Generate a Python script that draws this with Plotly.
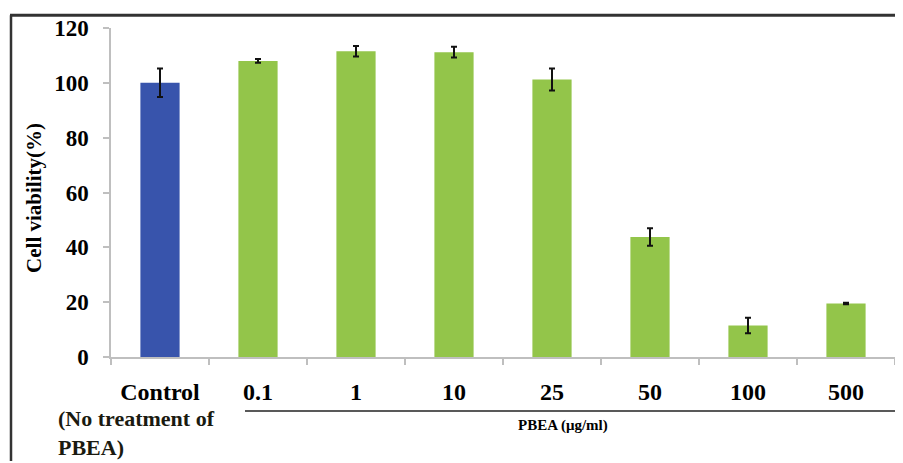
import plotly.graph_objects as go

categories = ["Control", "0.1", "1", "10", "25", "50", "100", "500"]
viability = [100, 108, 111.5, 111.2, 101.2, 43.8, 11.5, 19.5]
errors = [5.2, 0.7, 1.9, 2.0, 4.0, 3.2, 2.8, 0.3]
bar_colors = ["#3854AC"] + ["#93C54A"] * 7
y_ticks = [0, 20, 40, 60, 80, 100, 120]

# page body adds an 8px offset; work in screen pixels and compensate
OFF = 8
W, H = 903 - OFF, 463 - OFF
L, T = 111 - OFF, 22 - OFF
R = W - (895 - OFF)
B = H - (357 - OFF)
pw, ph = W - L - R, H - T - B

def px(x):
    return (x - OFF - L) / pw

def py(y):
    return (H - B - (y - OFF)) / ph

serif = "Liberation Serif"

fig = go.Figure()
fig.add_trace(go.Bar(
    x=categories, y=viability,
    marker=dict(color=bar_colors, line=dict(width=0)),
    error_y=dict(type="data", array=errors, color="#111111", thickness=2, width=3),
    width=0.4,
))

fig.update_layout(
    width=W, height=H,
    margin=dict(l=L, r=R, t=T, b=B),
    paper_bgcolor="white", plot_bgcolor="white",
    showlegend=False,
    xaxis=dict(
        type="category", tickson="boundaries",
        ticks="outside", ticklen=6, tickcolor="#BFBFBF", tickwidth=1.5,
        showline=True, linecolor="#BFBFBF", linewidth=1.5,
        showgrid=False,
        tickfont=dict(family=serif, size=24, color="black", weight="bold"),
        ticklabelstandoff=12,
    ),
    yaxis=dict(
        range=[0, 120], tickvals=y_ticks,
        ticks="outside", ticklen=6, tickcolor="#BFBFBF", tickwidth=1.5,
        showline=True, linecolor="#BFBFBF", linewidth=1.5,
        showgrid=False, zeroline=False,
        tickfont=dict(family=serif, size=23, color="black", weight="bold"),
        ticklabelstandoff=10,
    ),
    font=dict(family=serif),
)

# y-axis title
fig.add_annotation(
    text="<b>Cell viability(%)</b>", textangle=-90,
    xref="paper", yref="paper", x=px(34), y=py(195),
    xanchor="center", yanchor="middle",
    showarrow=False, font=dict(family=serif, size=21, color="black"),
)
# Control note
fig.add_annotation(
    text="<b>(No treatment of<br>PBEA)</b>", align="left",
    xref="paper", yref="paper", x=px(56), y=py(405), xanchor="left", yanchor="top",
    showarrow=False, font=dict(family=serif, size=22, color="#1a1a10"),
)
# PBEA concentration label
fig.add_annotation(
    text="<b>PBEA (μg/ml)</b>",
    xref="paper", yref="paper", x=px(563), y=py(427),
    xanchor="center", yanchor="middle",
    showarrow=False, font=dict(family=serif, size=15, color="black"),
)
# underline bracket
fig.add_shape(type="line", xref="paper", yref="paper",
              x0=px(245), x1=px(898), y0=py(412), y1=py(412),
              line=dict(color="#222222", width=1.5))
# outer frame (top and left)
fig.add_shape(type="line", xref="paper", yref="paper",
              x0=px(10), x1=px(903), y0=py(9), y1=py(9),
              line=dict(color="#333333", width=3))
fig.add_shape(type="line", xref="paper", yref="paper",
              x0=px(11), x1=px(11), y0=py(9), y1=py(463),
              line=dict(color="#333333", width=2.5))

fig.write_html("out.html")
